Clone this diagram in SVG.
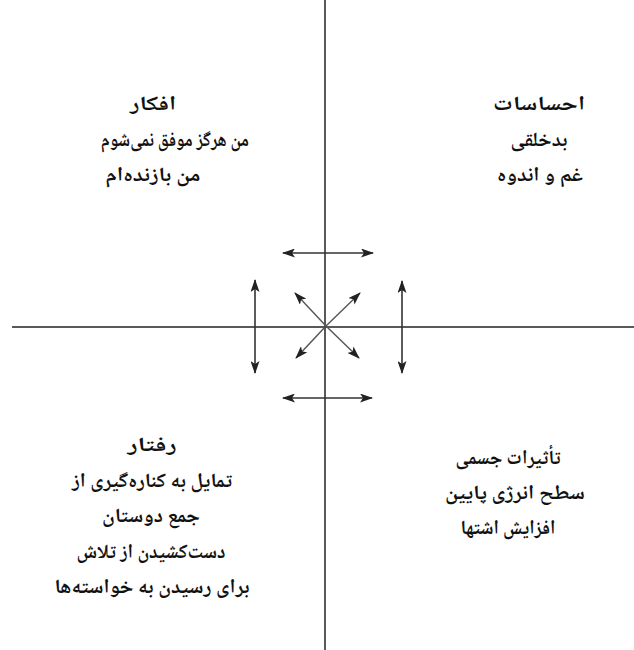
<svg xmlns="http://www.w3.org/2000/svg" width="634" height="650" viewBox="0 0 634 650">
<style>
text{font-family:"Noto Naskh Arabic","Noto Sans Arabic","DejaVu Sans",sans-serif;font-weight:bold;font-size:20px;fill:#111;text-anchor:middle;direction:rtl}
.axis{stroke:#222;stroke-width:1.5;fill:none}
.arr{stroke:#333;stroke-width:1.6;fill:none;marker-start:url(#ah);marker-end:url(#ah)}
.diag{stroke:#555;stroke-width:1.4;fill:none;marker-end:url(#ah)}
</style>
<defs>
<marker id="ah" viewBox="0 0 13 9" refX="12" refY="4.5" markerWidth="13" markerHeight="9" markerUnits="userSpaceOnUse" orient="auto-start-reverse">
<path d="M0,0 L13,4.5 L0,9 L3,4.5 Z" fill="#222"/>
</marker>
</defs>
<rect width="634" height="650" fill="#fff"/>
<g id="connectors">
<line class="axis" x1="325" y1="0" x2="325" y2="650"/>
<line class="axis" x1="12" y1="327" x2="634" y2="327"/>
<line class="arr" x1="283" y1="253" x2="373" y2="253"/>
<line class="arr" x1="283" y1="398" x2="372" y2="398"/>
<line class="arr" x1="255" y1="280" x2="255" y2="373"/>
<line class="arr" x1="402" y1="281" x2="402" y2="373"/>
<line class="diag" x1="326" y1="326" x2="295" y2="293"/>
<line class="diag" x1="326" y1="326" x2="360" y2="293"/>
<line class="diag" x1="326" y1="326" x2="296" y2="358"/>
<line class="diag" x1="326" y1="326" x2="359" y2="358"/>
</g>
<g id="thoughts">
<text x="153" y="110" textLength="46" lengthAdjust="spacingAndGlyphs">افکار</text>
<text x="175" y="146" textLength="148" lengthAdjust="spacingAndGlyphs">من هرگز موفق نمی‌شوم</text>
<text x="153" y="181" textLength="95" lengthAdjust="spacingAndGlyphs">من بازنده‌ام</text>
</g>
<g id="feelings">
<text x="539" y="110" textLength="92" lengthAdjust="spacingAndGlyphs">احساسات</text>
<text x="539" y="146" textLength="57" lengthAdjust="spacingAndGlyphs">بدخلقی</text>
<text x="540" y="181" textLength="86" lengthAdjust="spacingAndGlyphs">غم و اندوه</text>
</g>
<g id="behavior">
<text x="152" y="451" textLength="49" lengthAdjust="spacingAndGlyphs">رفتار</text>
<text x="152" y="487" textLength="160" lengthAdjust="spacingAndGlyphs">تمایل به کناره‌گیری از</text>
<text x="151" y="522" textLength="98" lengthAdjust="spacingAndGlyphs">جمع دوستان</text>
<text x="151" y="558" textLength="149" lengthAdjust="spacingAndGlyphs">دست‌کشیدن از تلاش</text>
<text x="152" y="593" textLength="195" lengthAdjust="spacingAndGlyphs">برای رسیدن به خواسته‌ها</text>
</g>
<g id="physical">
<text x="508" y="464" textLength="105" lengthAdjust="spacingAndGlyphs">تأثیرات جسمی</text>
<text x="515" y="499" textLength="140" lengthAdjust="spacingAndGlyphs">سطح انرژی پایین</text>
<text x="508" y="534" textLength="95" lengthAdjust="spacingAndGlyphs">افزایش اشتها</text>
</g>
</svg>
